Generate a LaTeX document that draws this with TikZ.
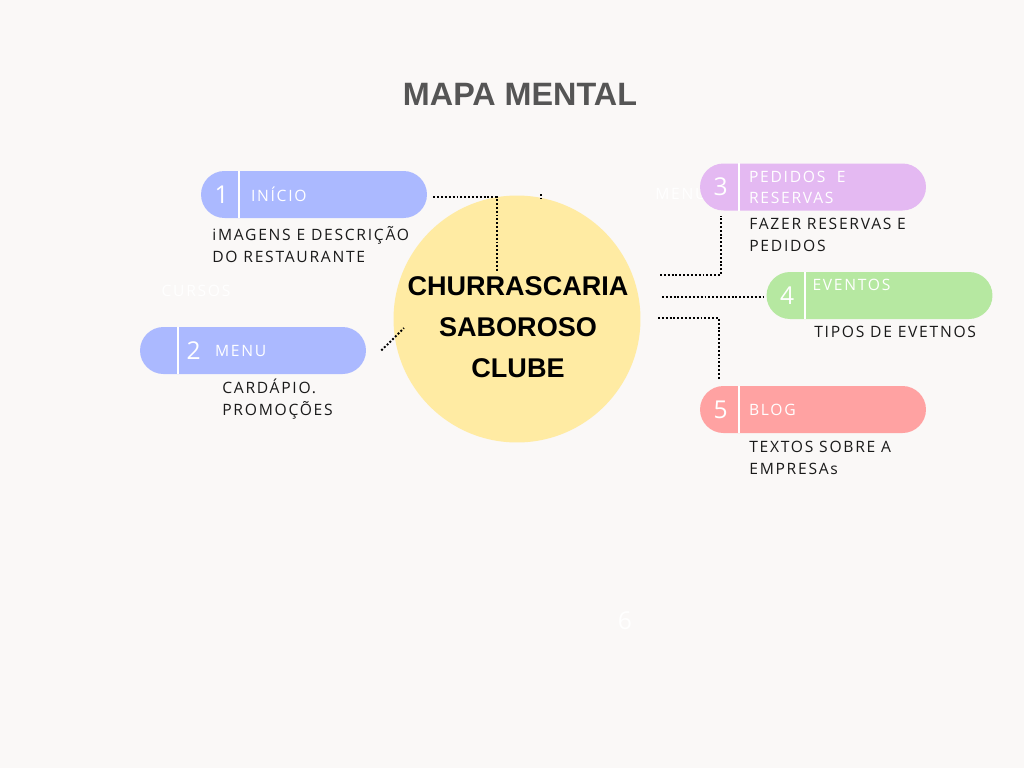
\documentclass[tikz,border=0pt]{standalone}
\usepackage{fontspec}
\setmainfont{Open Sans}
\newfontfamily\headfont{Liberation Sans}
\newfontfamily\trackfont[LetterSpace=11]{Open Sans}
\usetikzlibrary{positioning}
\definecolor{paper}{HTML}{FAF8F7}
\definecolor{hubfill}{HTML}{FFEBA3}
\definecolor{periwinkle}{HTML}{ABB9FF}
\definecolor{lilac}{HTML}{E4B9F2}
\definecolor{mint}{HTML}{B6E8A1}
\definecolor{rose}{HTML}{FFA2A2}
\definecolor{titlegray}{HTML}{555555}
\definecolor{ink}{HTML}{1A1A1A}
\tikzset{
  pill/.style={draw=none, rounded corners=0.47cm, minimum width=4.52cm, minimum height=0.94cm, inner sep=0pt},
  divider/.style={white, line width=1.1pt},
  num/.style={text=white, font=\fontsize{14}{16}\selectfont, inner sep=0pt},
  tag/.style={text=white, font=\trackfont\fontsize{8.9}{12}\selectfont, anchor=west, inner sep=0pt, align=left},
  desc/.style={text=ink, font=\trackfont\fontsize{8.9}{12.4}\selectfont, anchor=north west, inner sep=0pt, align=left},
  ghost/.style={text=white, font=\trackfont\fontsize{8.9}{12}\selectfont, inner sep=0pt},
  link/.style={black, line width=1.1pt, dash pattern=on 1.1pt off 1.1pt}
}

\begin{document}
\begin{tikzpicture}[x=0.02cm, y=-0.02cm]
  \fill[paper] (0,0) rectangle (1024,768);
  \useasboundingbox (0,0) rectangle (1024,768);

  % title
  \node[text=titlegray, font=\headfont\bfseries\fontsize{18.4}{20}\selectfont] (title) at (520,94) {MAPA MENTAL};

  % faint white leftovers
  \node[ghost] (cursos) at (196,291) {CURSOS};
  \node[ghost, anchor=west] (menughost) at (655,194) {MENU};
  \node[text=white, font=\fontsize{14}{16}\selectfont] (six) at (625,621) {6};

  % centre
  \node[circle, fill=hubfill, minimum size=4.94cm, inner sep=0pt] (hub) at (517,319) {};
  \node[align=center, text=black, font=\headfont\bfseries\fontsize{15.4}{23.3}\selectfont] (hubtext) at (518,327)
    {CHURRASCARIA\\SABOROSO\\CLUBE};

  % 1 inicio
  \node[pill, fill=periwinkle] (inicio) at (314,194.5) {};
  \draw[divider] ([xshift=0.76cm]inicio.north west) -- ([xshift=0.76cm]inicio.south west);
  \node[num] (n1) at ([xshift=0.42cm]inicio.west) {1};
  \node[tag] (t1) at ([xshift=1.0cm]inicio.west) {INÍCIO};
  \node[desc] (d1) at (212,226) {iMAGENS E DESCRIÇÃO\\DO RESTAURANTE};

  % 2 menu
  \node[pill, fill=periwinkle] (menu) at (253,350.5) {};
  \draw[divider] ([xshift=0.76cm]menu.north west) -- ([xshift=0.76cm]menu.south west);
  \node[num] (n2) at ([xshift=1.08cm]menu.west) {2};
  \node[tag] (t2) at ([xshift=1.5cm]menu.west) {MENU};
  \node[desc] (d2) at (222,379) {CARDÁPIO.\\PROMOÇÕES};

  % 3 pedidos
  \node[pill, fill=lilac] (pedidos) at (813,187) {};
  \draw[divider] ([xshift=0.78cm]pedidos.north west) -- ([xshift=0.78cm]pedidos.south west);
  \node[num] (n3) at ([xshift=0.42cm]pedidos.west) {3};
  \node[tag] (t3) at ([xshift=0.98cm]pedidos.west) {PEDIDOS\ \ E\\RESERVAS};
  \node[desc] (d3) at (749,218) {FAZER RESERVAS E\\PEDIDOS};

  % 4 eventos
  \node[pill, fill=mint] (eventos) at (879.5,295.5) {};
  \draw[divider] ([xshift=0.78cm]eventos.north west) -- ([xshift=0.78cm]eventos.south west);
  \node[num] (n4) at ([xshift=0.42cm]eventos.west) {4};
  \node[tag] (t4) at ([xshift=0.92cm, yshift=0.21cm]eventos.west) {EVENTOS};
  \node[desc] (d4) at (814,326) {TIPOS DE EVETNOS};

  % 5 blog
  \node[pill, fill=rose] (blog) at (813,409.5) {};
  \draw[divider] ([xshift=0.78cm]blog.north west) -- ([xshift=0.78cm]blog.south west);
  \node[num] (n5) at ([xshift=0.42cm]blog.west) {5};
  \node[tag] (t5) at ([xshift=0.98cm]blog.west) {BLOG};
  \node[desc] (d5) at (749,441) {TEXTOS SOBRE A\\EMPRESAs};

  % dotted links
  \coordinate (c1) at (497,272);
  \coordinate (c2) at (404,328);
  \coordinate (c3) at (660,275);
  \coordinate (e3) at (721,216);
  \coordinate (c4) at (662,297);
  \coordinate (c5) at (658,318);
  \coordinate (e5) at (719,380);
  \draw[link] ([xshift=0.12cm, yshift=-0.05cm]inicio.east) -| (c1);
  \draw[link] ([xshift=0.3cm]menu.east) -- (c2);
  \draw[link] (c3) -| (e3);
  \draw[link] (c4) -- (c4 -| eventos.west);
  \draw[link] (c5) -| (e5);
  \draw[link] (541,194) -- (541,198);
\end{tikzpicture}
\end{document}
